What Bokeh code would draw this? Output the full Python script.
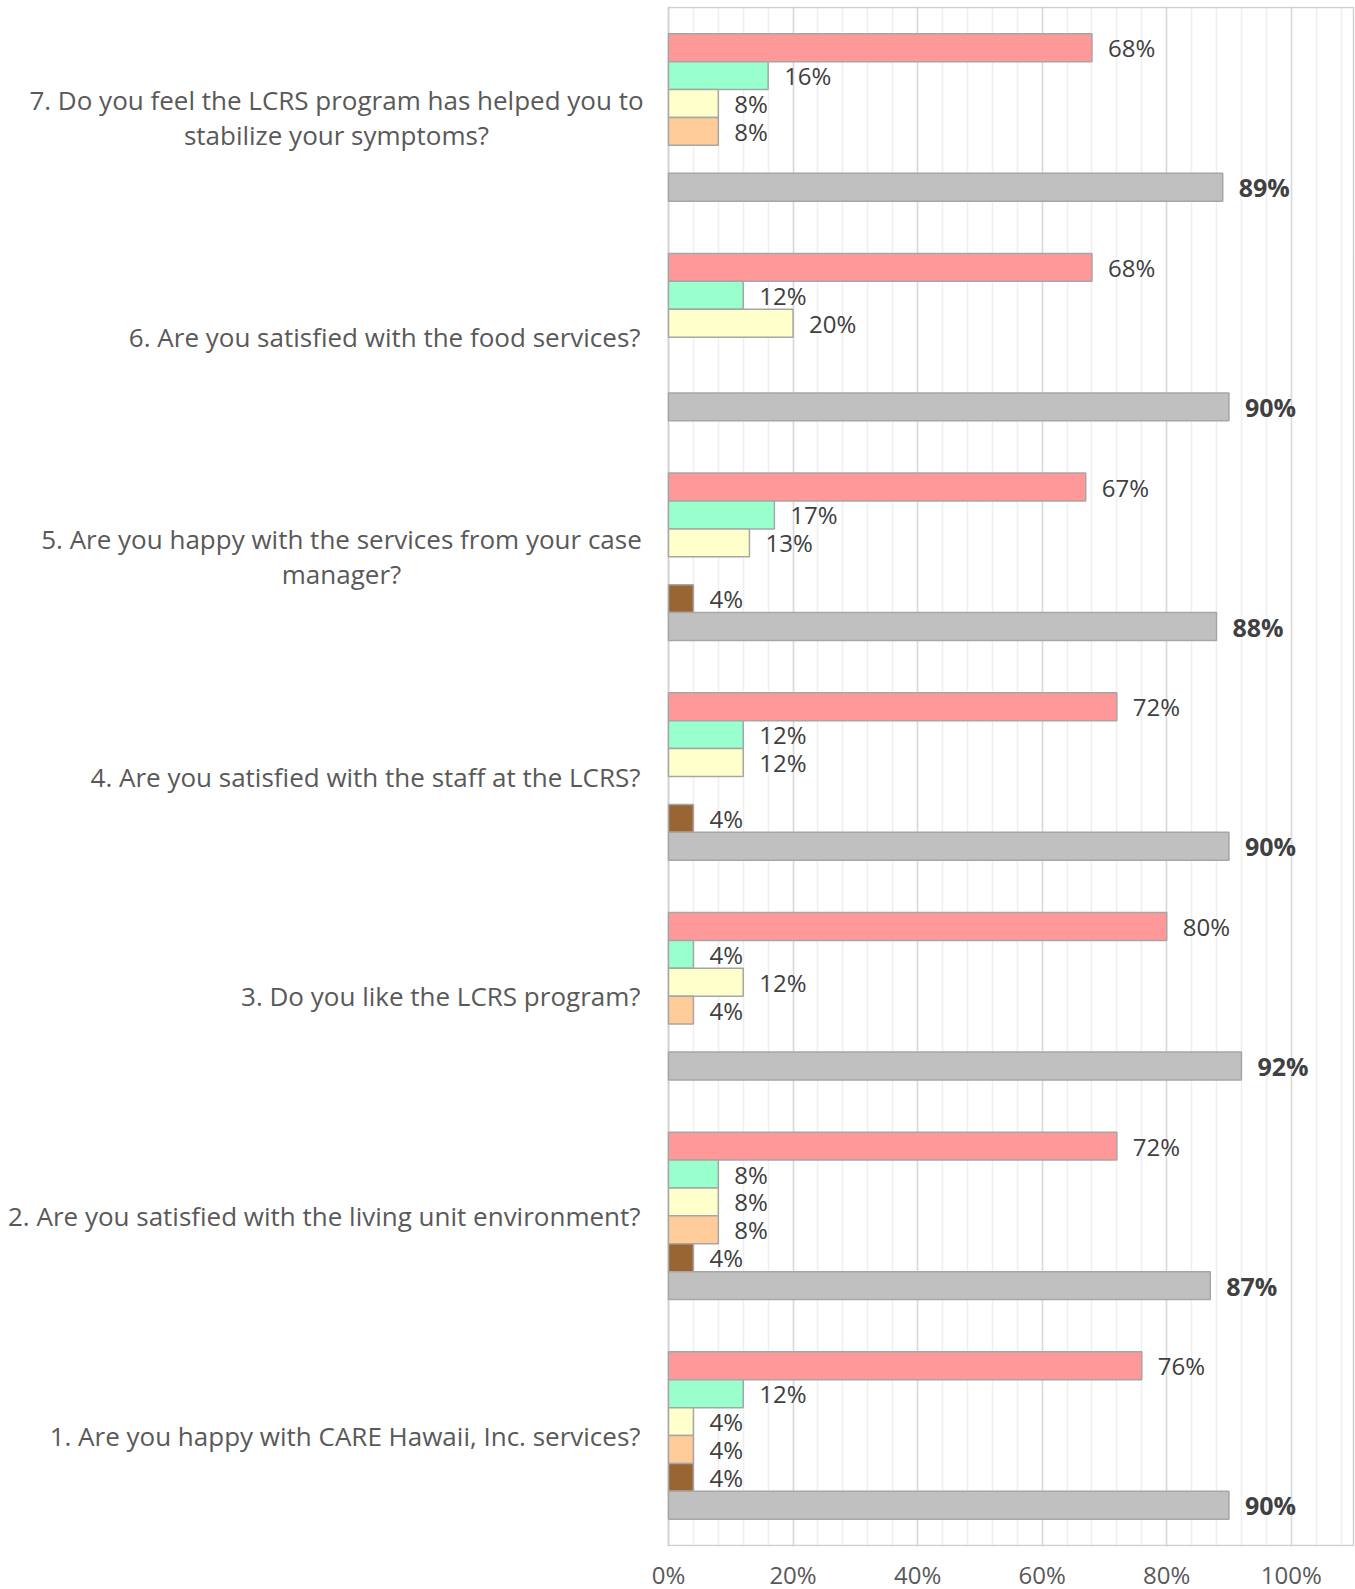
from bokeh.plotting import figure
from bokeh.models import ColumnDataSource, FactorRange, Range1d, FixedTicker
from bokeh.transform import dodge
from bokeh.core.properties import value
from bokeh.embed import file_html
from bokeh.resources import INLINE

# ---------------- data ----------------
questions = ["Q1", "Q2", "Q3", "Q4", "Q5", "Q6", "Q7"]
question_labels = [
    "1. Are you happy with CARE Hawaii, Inc. services?",
    "2. Are you satisfied with the living unit environment?",
    "3. Do you like the LCRS program?",
    "4. Are you satisfied with the staff at the LCRS?",
    "5. Are you happy with the services from your case\nmanager?",
    "6. Are you satisfied with the food services?",
    "7. Do you feel the LCRS program has helped you to\nstabilize your symptoms?",
]
series_names = ["Strongly Agree", "Agree", "Neutral", "Disagree", "Strongly Disagree", "Overall"]
strongly_agree = [76, 72, 80, 72, 67, 68, 68]
agree = [12, 8, 4, 12, 17, 12, 16]
neutral = [4, 8, 12, 12, 13, 20, 8]
disagree = [4, 8, 4, 0, 0, 0, 8]
strongly_disagree = [4, 4, 0, 4, 4, 0, 0]
overall = [90, 87, 92, 90, 88, 90, 89]
x_ticks = [0, 20, 40, 60, 80, 100]
x_tick_labels = ["0%", "20%", "40%", "60%", "80%", "100%"]

# ---------------- style / layout ----------------
series_values = [strongly_agree, agree, neutral, disagree, strongly_disagree, overall]
colors = ["#FF9999", "#99FFCC", "#FFFFCC", "#FFCC99", "#996633", "#C0C0C0"]
FONT = "Open Sans"
FRAME_W = 1355
LEFT_PX = 668            # pixel position of 0% inside the frame
PLOT_W_PX = 685          # pixel width of the 0..110% plot area
XMAX = 110
PX = PLOT_W_PX / XMAX
BAR_H = 0.127

x_start = -LEFT_PX / PX
x_end = XMAX + (FRAME_W - LEFT_PX - PLOT_W_PX) / PX

p = figure(frame_width=FRAME_W, frame_height=1540, output_backend="svg",
           toolbar_location=None, y_axis_location=None,
           x_range=Range1d(x_start, x_end),
           y_range=FactorRange(factors=questions, range_padding=0.005,
                               range_padding_units="absolute"),
           min_border_left=0, min_border_right=0, min_border_top=6, min_border_bottom=0)
p.outline_line_color = None
p.background_fill_color = "white"
p.border_fill_color = "white"

# grid limited to 0..110
p.ygrid.visible = False
p.xgrid.bounds = (0, XMAX)
p.xgrid.ticker = FixedTicker(ticks=x_ticks, minor_ticks=list(range(0, XMAX + 1, 4)))
p.xgrid.grid_line_color = "#D9D9D9"
p.xgrid.grid_line_width = 1.5
p.xgrid.minor_grid_line_color = "#EFEFEF"
p.xgrid.minor_grid_line_width = 1.5

# plot-area border
p.quad(left=[0], right=[XMAX], bottom=[0], top=[len(questions)],
       fill_color=None, line_color="#D0D0D0", line_width=1.5)

# x axis
p.xaxis.ticker = FixedTicker(ticks=x_ticks)
p.xaxis.major_label_overrides = {t: l for t, l in zip(x_ticks, x_tick_labels)}
p.xaxis.axis_line_color = None
p.xaxis.major_tick_line_color = None
p.xaxis.minor_tick_line_color = None
p.xaxis.major_tick_out = 0
p.xaxis.major_tick_in = 0
p.xaxis.major_label_standoff = 11
p.xaxis.major_label_text_font = FONT
p.xaxis.major_label_text_font_size = "24px"
p.xaxis.major_label_text_color = "#595959"

# bars + labels
n = len(series_values)
for i, (vals, col) in enumerate(zip(series_values, colors)):
    offset = (n / 2 - 0.5 - i) * BAR_H
    keep = [k for k, v in enumerate(vals) if v > 0]
    src = ColumnDataSource(dict(
        q=[questions[k] for k in keep],
        v=[vals[k] for k in keep],
        t=["%d%%" % vals[k] for k in keep],
    ))
    ycoord = dodge("q", offset, range=p.y_range)
    p.hbar(y=ycoord, left=0, right="v", height=BAR_H, source=src,
           fill_color=col, line_color="#A6A6A6", line_width=1.5)
    bold = (i == n - 1)
    p.text(x="v", y=ycoord, text="t", source=src, x_offset=16,
           text_baseline="middle", text_align="left",
           text_font=value(FONT), text_font_size="25px" if bold else "24px",
           text_font_style="bold" if bold else "normal",
           text_color="#404040")

# category labels
single = [k for k, l in enumerate(question_labels) if "\n" not in l]
multi = [k for k, l in enumerate(question_labels) if "\n" in l]
src1 = ColumnDataSource(dict(q=[questions[k] for k in single],
                             t=[question_labels[k] for k in single]))
p.text(x=(640 - LEFT_PX) / PX, y="q", text="t", source=src1,
       text_align="right", text_baseline="middle",
       text_font=value(FONT), text_font_size="26px", text_color="#595959")
# two-line labels are centred under their (right-aligned) first line
multi_center_px = {4: 341, 6: 336}
src2 = ColumnDataSource(dict(q=[questions[k] for k in multi],
                             t=[question_labels[k] for k in multi],
                             x=[(multi_center_px[k] - LEFT_PX) / PX for k in multi]))
p.text(x="x", y="q", text="t", source=src2,
       text_align="center", text_baseline="middle", text_line_height=0.98,
       text_font=value(FONT), text_font_size="26px", text_color="#595959")

open("out.html", "w").write(file_html(p, INLINE))
